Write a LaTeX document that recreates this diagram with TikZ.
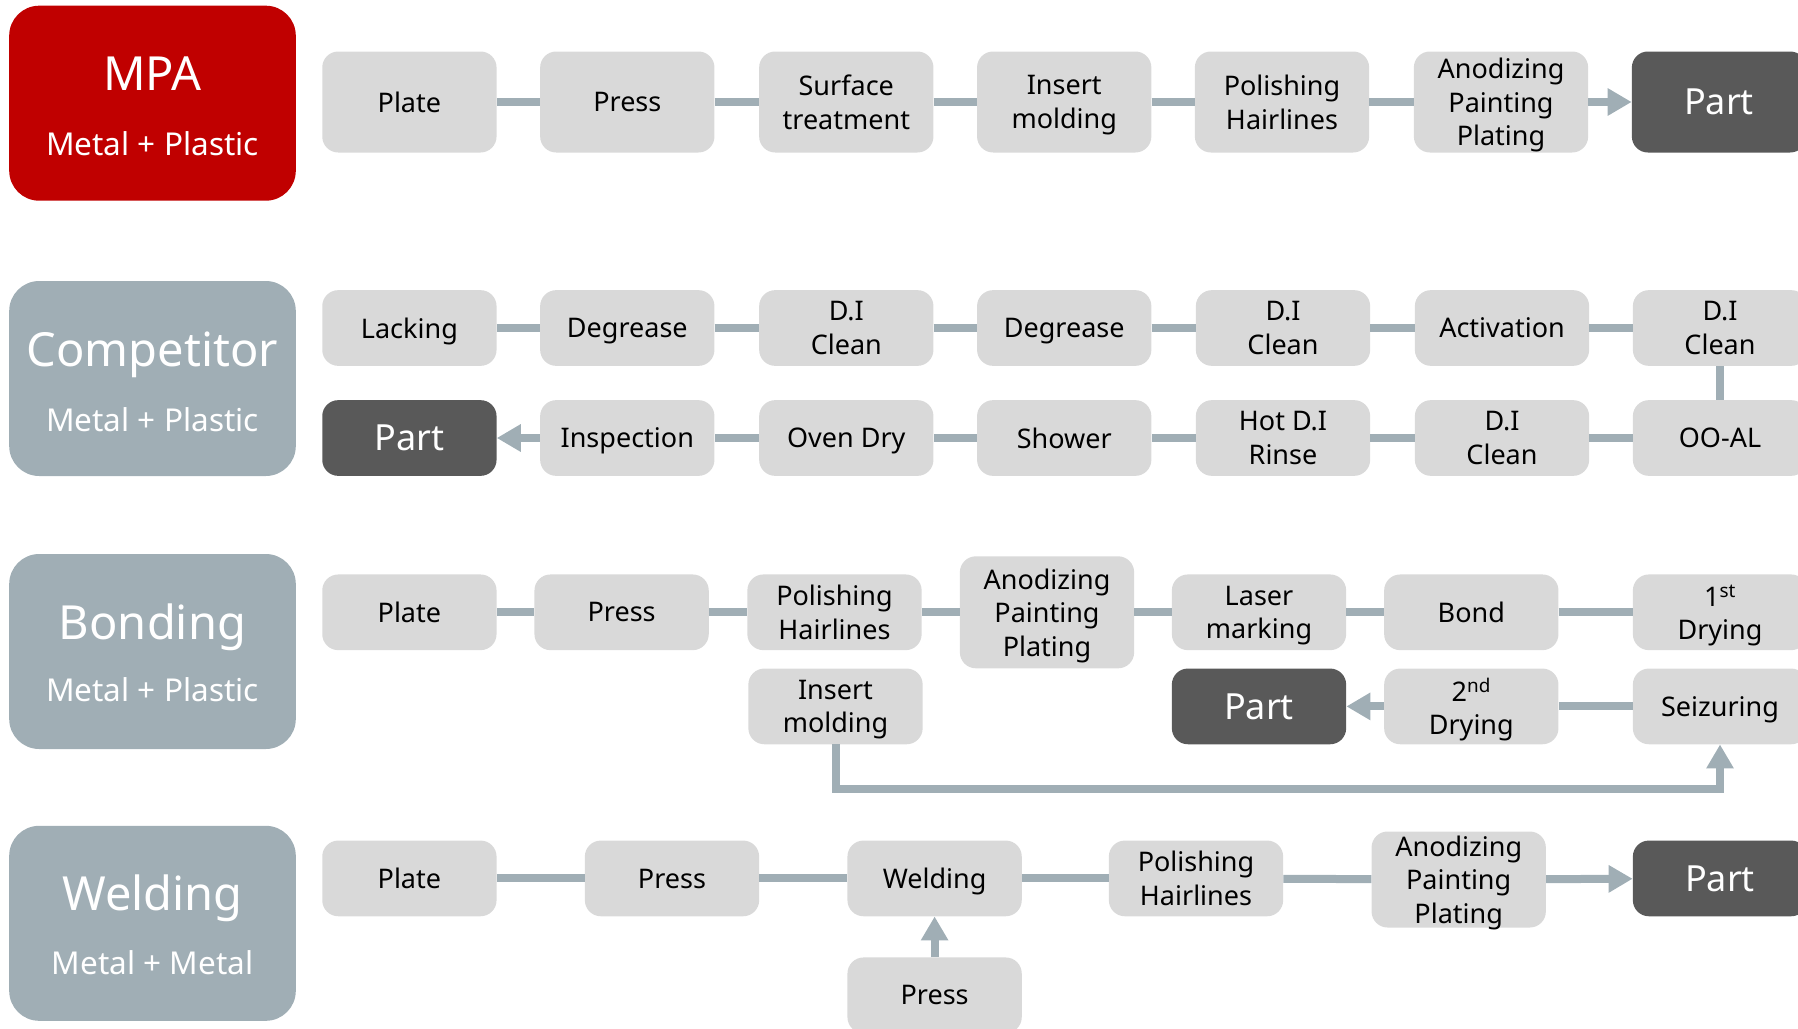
\documentclass[tikz,border=0pt]{standalone}
\usepackage{fontspec}
\setmainfont{Noto Sans}
\usetikzlibrary{arrows.meta}
\definecolor{mpared}{HTML}{C00000}
\definecolor{labelgray}{HTML}{A0AEB5}
\definecolor{boxgray}{HTML}{D9D9D9}
\definecolor{partdark}{HTML}{595959}
\definecolor{conn}{HTML}{A0AEB5}
\tikzset{
  proc/.style={fill=boxgray, rounded corners=16pt, minimum width=174.3pt, minimum height=75.7pt,
    inner sep=0pt, align=center, font=\fontsize{27}{33.5}\selectfont, text=black, text depth=0pt},
  tall/.style={minimum height=101pt},
  partbox/.style={proc, fill=partdark, text=white, font=\fontsize{36}{40}\selectfont},
  lbl/.style={rounded corners=30pt, minimum width=286.6pt, minimum height=195pt, inner sep=0pt},
  ttl/.style={anchor=base, text=white, font=\fontsize{47}{50}\selectfont, inner sep=0pt},
  sub/.style={anchor=base, text=white, font=\fontsize{31.5}{36}\selectfont, inner sep=0pt},
  link/.style={draw=conn, line width=8pt},
  arr/.style={link, -{Triangle[length=24pt,width=26pt]}},
}
\begin{document}
\begin{tikzpicture}[x=1pt,y=-1pt]
\useasboundingbox (0,0) rectangle (1798,1028);
\clip (0,0) rectangle (1798,1028);
% ---------- labels
\node[lbl, fill=mpared] (mpa) at (152.5,103.2) {};
\node[ttl] (mpat) at (152.5,90) {MPA};
\node[sub] (mpas) at (152.5,155) {Metal + Plastic};
\node[lbl, fill=labelgray] (comp) at (152.5,378.5) {};
\node[ttl] (compt) at (152.5,366) {Competitor};
\node[sub] (comps) at (152.5,431) {Metal + Plastic};
\node[lbl, fill=labelgray] (bond) at (152.5,651.5) {};
\node[ttl] (bondt) at (152.5,639) {Bonding};
\node[sub] (bonds) at (152.5,701) {Metal + Plastic};
\node[lbl, fill=labelgray] (weld) at (152.5,923.3) {};
\node[ttl] (weldt) at (152.5,910) {Welding};
\node[sub] (welds) at (152.5,974) {Metal + Metal};
% ---------- row 1 MPA
\node[proc, tall] (a1) at (409.4,102) {Plate};
\node[proc, tall] (a2) at (627.3,102) {Press};
\node[proc, tall] (a3) at (846.3,102) {Surface\\treatment};
\node[proc, tall] (a4) at (1064.2,102) {Insert\\molding};
\node[proc, tall] (a5) at (1282,102) {Polishing\\Hairlines};
\node[proc, tall] (a6) at (1501,102) {Anodizing\\Painting\\Plating};
\node[partbox, tall] (a7) at (1719,102) {Part};
\draw[link] (a1) -- (a2); \draw[link] (a2) -- (a3); \draw[link] (a3) -- (a4);
\draw[link] (a4) -- (a5); \draw[link] (a5) -- (a6);
\draw[arr] (a6) -- (a7);
% ---------- row 2 Competitor
\node[proc] (b1) at (409.4,328) {Lacking};
\node[proc] (b2) at (627.3,328) {Degrease};
\node[proc] (b3) at (846.3,328) {D.I\\Clean};
\node[proc] (b4) at (1064.2,328) {Degrease};
\node[proc] (b5) at (1283,328) {D.I\\Clean};
\node[proc] (b6) at (1502,328) {Activation};
\node[proc] (b7) at (1720,328) {D.I\\Clean};
\node[partbox] (c1) at (409.4,438) {Part};
\node[proc] (c2) at (627.3,438) {Inspection};
\node[proc] (c3) at (846.3,438) {Oven Dry};
\node[proc] (c4) at (1064.2,438) {Shower};
\node[proc] (c5) at (1283,438) {Hot D.I\\Rinse};
\node[proc] (c6) at (1502,438) {D.I\\Clean};
\node[proc] (c7) at (1720,438) {OO-AL};
\draw[link] (b1) -- (b2); \draw[link] (b2) -- (b3); \draw[link] (b3) -- (b4);
\draw[link] (b4) -- (b5); \draw[link] (b5) -- (b6); \draw[link] (b6) -- (b7);
\draw[link] (b7) -- (c7);
\draw[link] (c7) -- (c6); \draw[link] (c6) -- (c5); \draw[link] (c5) -- (c4);
\draw[link] (c4) -- (c3); \draw[link] (c3) -- (c2);
\draw[arr] (c2) -- (c1);
% ---------- row 3 Bonding
\node[proc] (d1) at (409.4,612.3) {Plate};
\node[proc] (d2) at (621.6,612.3) {Press};
\node[proc] (d3) at (834.5,612.3) {Polishing\\Hairlines};
\node[proc, minimum height=112pt] (d4) at (1047,612.3) {Anodizing\\Painting\\Plating};
\node[proc] (d5) at (1259,612.3) {Laser\\marking};
\node[proc] (d6) at (1471.3,612.3) {Bond};
\node[proc] (d7) at (1720,612.3) {1\textsuperscript{st}\\Drying};
\node[proc] (e1) at (835.5,706.4) {Insert\\molding};
\node[partbox] (e2) at (1259,706.4) {Part};
\node[proc] (e3) at (1471.3,706.4) {2\textsuperscript{nd}\\Drying};
\node[proc] (e4) at (1720,706.4) {Seizuring};
\draw[link] (d1) -- (d2); \draw[link] (d2) -- (d3); \draw[link] (d3) -- (d4);
\draw[link] (d4) -- (d5); \draw[link] (d5) -- (d6); \draw[link] (d6) -- (d7);
\draw[link] (e4) -- (e3);
\draw[arr] (e3) -- (e2);
\coordinate (loop) at (835.5,789);
\draw[arr] (e1.south) -- (loop) -| (e4.south);
% ---------- row 4 Welding
\node[proc] (f1) at (409.4,878.4) {Plate};
\node[proc] (f2) at (672,878.4) {Press};
\node[proc] (f3) at (934.6,878.4) {Welding};
\node[proc] (f4) at (1196,878.4) {Polishing\\Hairlines};
\node[proc, minimum height=96pt] (f5) at (1458.7,879.5) {Anodizing\\Painting\\Plating};
\node[partbox] (f6) at (1720,878.4) {Part};
\node[proc] (g1) at (934.6,995.3) {Press};
\draw[link] (f1) -- (f2); \draw[link] (f2) -- (f3); \draw[link] (f3) -- (f4);
\draw[link] (f4) -- (f5);
\draw[arr] (f5) -- (f6);
\draw[arr] (g1) -- (f3);
\end{tikzpicture}
\end{document}
